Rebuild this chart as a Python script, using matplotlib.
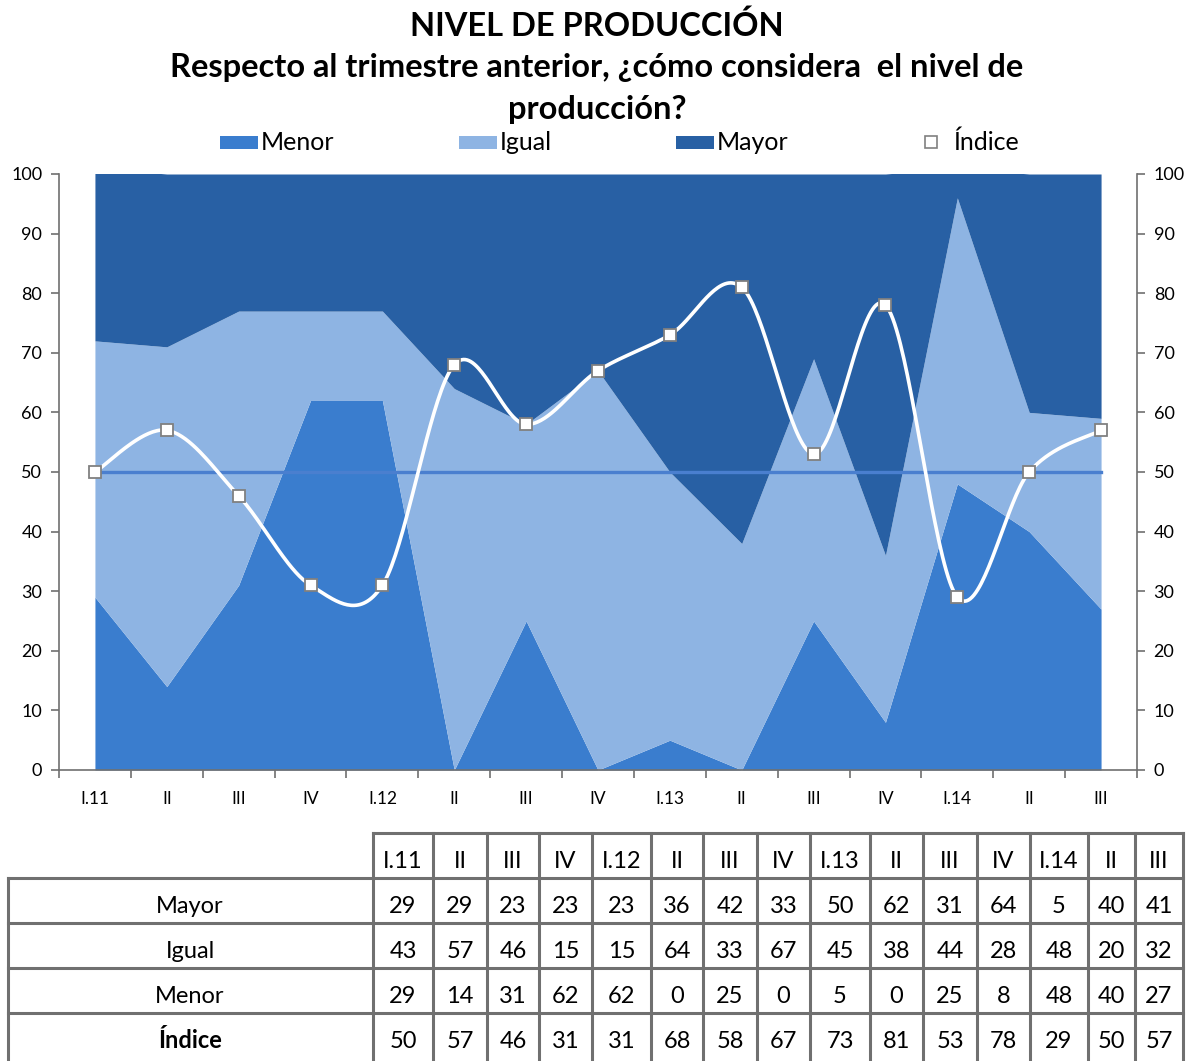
import matplotlib.pyplot as plt
import matplotlib.patches as mpatches
import numpy as np

plt.rcParams['font.family'] = ['Lato', 'DejaVu Sans']

quarters = ["I.11", "II", "III", "IV", "I.12", "II", "III", "IV",
            "I.13", "II", "III", "IV", "I.14", "II", "III"]
mayor = [29, 29, 23, 23, 23, 36, 42, 33, 50, 62, 31, 64, 5, 40, 41]
igual = [43, 57, 46, 15, 15, 64, 33, 67, 45, 38, 44, 28, 48, 20, 32]
menor = [29, 14, 31, 62, 62, 0, 25, 0, 5, 0, 25, 8, 48, 40, 27]
indice = [50, 57, 46, 31, 31, 68, 58, 67, 73, 81, 53, 78, 29, 50, 57]
neutral = 50

c_menor = "#3A7DCE"
c_igual = "#8EB4E3"
c_mayor = "#2860A4"
c_grid = "#707070"

W, H = 1193, 1061


def smooth(x, y, n=40):
    # Excel-like smoothed line (Catmull-Rom as cubic Bezier)
    x = np.asarray(x, float)
    y = np.asarray(y, float)
    px = np.concatenate([[x[0]], x, [x[-1]]])
    py = np.concatenate([[y[0]], y, [y[-1]]])
    t = np.linspace(0, 1, n)[:, None]
    out = []
    for i in range(1, len(px) - 2):
        p0 = np.array([px[i - 1], py[i - 1]])
        p1 = np.array([px[i], py[i]])
        p2 = np.array([px[i + 1], py[i + 1]])
        p3 = np.array([px[i + 2], py[i + 2]])
        c1 = p1 + (p2 - p0) / 6
        c2 = p2 - (p3 - p1) / 6
        seg = ((1 - t) ** 3) * p1 + 3 * ((1 - t) ** 2) * t * c1 + 3 * (1 - t) * t ** 2 * c2 + t ** 3 * p2
        out.append(seg)
    out = np.vstack(out)
    return out[:, 0], out[:, 1]


fig = plt.figure(figsize=(W / 100, H / 100), dpi=100)
ax = fig.add_axes([59 / W, 1 - 770 / H, (1137 - 59) / W, (770 - 174) / H])

x = np.arange(len(quarters))
low = np.array(menor)
mid = low + np.array(igual)
top = mid + np.array(mayor)
ax.fill_between(x, 0, low, color=c_menor, lw=0, zorder=1)
ax.fill_between(x, low, mid, color=c_igual, lw=0, zorder=1)
ax.fill_between(x, mid, top, color=c_mayor, lw=0, zorder=1)
ax.plot([x[0], x[-1]], [neutral, neutral], color="#4A7FCF", lw=2.4, zorder=2)
sx, sy = smooth(x, indice)
ax.plot(sx, sy, color="white", lw=2.6, zorder=3)
ax.plot(x, indice, ls="none", marker="s", ms=9, mfc="white", mec="#808080", mew=1.3, zorder=4)

ax.set_xlim(-0.5, len(quarters) - 0.5)
ax.set_ylim(0, 100)
ax.set_yticks(range(0, 101, 10))
ax.set_xticks(x)
ax.set_xticklabels(quarters)
ax.set_xticks(np.arange(-0.5, len(quarters), 1), minor=True)
ax.tick_params(axis="x", which="major", length=0, pad=15, labelsize=12.5)
ax.tick_params(axis="x", which="minor", length=6, width=1.2, color=c_grid)
ax.tick_params(axis="y", length=6, width=1.2, color=c_grid, labelsize=13,
               right=True, labelright=True, pad=6)
ax.spines["top"].set_visible(False)
for s in ["left", "right", "bottom"]:
    ax.spines[s].set_color(c_grid)
    ax.spines[s].set_linewidth(1.2)

# overlay in pixel coordinates for title, legend and table
ov = fig.add_axes([0, 0, 1, 1])
ov.set_xlim(0, W)
ov.set_ylim(H, 0)
ov.axis("off")

ov.text(597, 26, "NIVEL DE PRODUCCIÓN", ha="center", va="center",
        fontsize=23.5, fontweight="bold")
ov.text(597, 68, "Respecto al trimestre anterior, ¿cómo considera  el nivel de",
        ha="center", va="center", fontsize=23.5, fontweight="bold")
ov.text(597, 110, "producción?", ha="center", va="center", fontsize=23.5, fontweight="bold")

for lx, lab, col in [(220, "Menor", c_menor), (459, "Igual", c_igual), (676, "Mayor", c_mayor)]:
    ov.add_patch(mpatches.Rectangle((lx, 136), 38, 13, color=col, lw=0))
    ov.text(lx + 41, 142, lab, ha="left", va="center", fontsize=18)
ov.plot([931], [142], ls="none", marker="s", ms=8, mfc="white", mec="#808080", mew=1.2)
ov.text(953, 142, "Índice", ha="left", va="center", fontsize=18)

# data table
col_edges = [373, 433, 487, 539, 592, 651, 703, 757, 810, 870, 923, 977, 1030, 1088, 1135, 1183]
row_edges = [833, 878, 923, 968, 1013, 1061]
lw_t = 2.2
ov.plot([col_edges[0], col_edges[-1]], [row_edges[0]] * 2, color=c_grid, lw=lw_t)
for ry in row_edges[1:-1]:
    ov.plot([8, col_edges[-1]], [ry, ry], color=c_grid, lw=lw_t)
ov.plot([8, 8], [row_edges[1], H], color=c_grid, lw=lw_t)
for cx in col_edges:
    ov.plot([cx, cx], [row_edges[0], H], color=c_grid, lw=lw_t)

centers = [(a + b) / 2 for a, b in zip(col_edges[:-1], col_edges[1:])]
ymid = [(a + b) / 2 + 6 for a, b in zip(row_edges[:-1], row_edges[1:])]
ymid[-1] = (row_edges[-2] + row_edges[-1]) / 2 + 4
for cx, q in zip(centers, quarters):
    ov.text(cx, ymid[0], q, ha="center", va="center", fontsize=17)
rows = [("Mayor", mayor, "normal"), ("Igual", igual, "normal"),
        ("Menor", menor, "normal"), ("Índice", indice, "bold")]
for (lab, vals, wt), cy in zip(rows, ymid[1:]):
    ov.text(190, cy, lab, ha="center", va="center", fontsize=17, fontweight=wt)
    for cx, v in zip(centers, vals):
        ov.text(cx, cy, str(v), ha="center", va="center", fontsize=17)

fig.savefig("out.png", dpi=100)
